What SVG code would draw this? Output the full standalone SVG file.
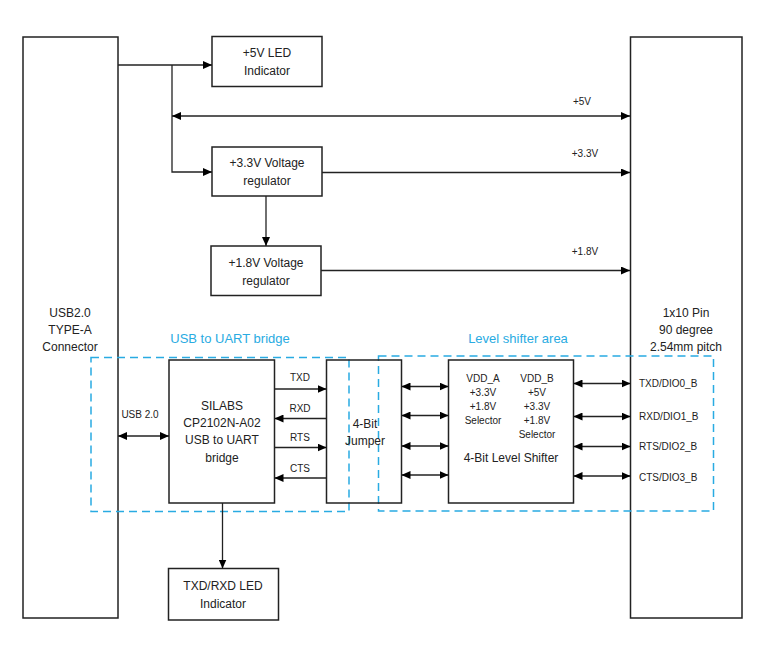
<svg xmlns="http://www.w3.org/2000/svg" width="768" height="658" viewBox="0 0 768 658">
<defs>
<marker id="ah" markerWidth="9" markerHeight="8" refX="9" refY="4" orient="auto-start-reverse" markerUnits="userSpaceOnUse">
<path d="M0,0 L9,4 L0,8 Z" fill="#000"/>
</marker>
</defs>
<style>
.box{fill:#fff;stroke:#222;stroke-width:1.5}
.t{font-family:"Liberation Sans",Arial,sans-serif;font-size:12px;fill:#222;text-anchor:middle}
.s{font-family:"Liberation Sans",Arial,sans-serif;font-size:10px;fill:#222;text-anchor:middle}
.sl{font-family:"Liberation Sans",Arial,sans-serif;font-size:10px;fill:#222;text-anchor:start}
.b{font-family:"Liberation Sans",Arial,sans-serif;font-size:13px;fill:#29abe2;text-anchor:middle}
.area{fill:none;stroke:#29abe2;stroke-width:1.5;stroke-dasharray:8,5}
.c{fill:none;stroke:#222;stroke-width:1.3}
.a{marker-end:url(#ah)}
.d{marker-start:url(#ah);marker-end:url(#ah)}
</style>
<rect width="768" height="658" fill="#fff"/>
<g id="usb-conn"><rect class="box" x="23" y="37" width="95" height="581"/>
<text class="t" x="70" y="317">USB2.0</text><text class="t" x="70" y="334">TYPE-A</text><text class="t" x="70" y="351">Connector</text></g>
<g id="pin-header"><rect class="box" x="630.5" y="37" width="111.5" height="581"/>
<text class="t" x="686" y="317">1x10 Pin</text><text class="t" x="686" y="334">90 degree</text><text class="t" x="686" y="351">2.54mm pitch</text></g>
<g id="led5"><rect class="box" x="212" y="36.5" width="110" height="50"/>
<text class="t" x="267" y="57">+5V LED</text><text class="t" x="267" y="75">Indicator</text></g>
<g id="reg33"><rect class="box" x="212" y="147" width="110" height="49"/>
<text class="t" x="267" y="167">+3.3V Voltage</text><text class="t" x="267" y="185">regulator</text></g>
<g id="reg18"><rect class="box" x="211" y="246" width="110" height="49.5"/>
<text class="t" x="266" y="267">+1.8V Voltage</text><text class="t" x="266" y="285">regulator</text></g>
<g id="area-usb"><rect class="area" x="91" y="357.5" width="258" height="154"/>
<text class="b" x="230" y="343">USB to UART bridge</text></g>
<g id="area-ls"><rect class="area" x="378.5" y="356" width="335" height="155"/>
<text class="b" x="518" y="343">Level shifter area</text></g>
<g id="silabs"><rect class="box" x="169" y="360" width="105.5" height="143"/>
<text class="t" x="222" y="410">SILABS</text><text class="t" x="222" y="427">CP2102N-A02</text><text class="t" x="222" y="444">USB to UART</text><text class="t" x="222" y="462">bridge</text></g>
<g id="jumper"><rect class="box" x="326.5" y="360" width="75" height="143" fill-opacity="0"/>
<text class="t" x="365" y="428">4-Bit</text><text class="t" x="365" y="445">Jumper</text></g>
<g id="shifter"><rect class="box" x="448.5" y="360" width="125" height="143"/>
<text class="s" x="483" y="382">VDD_A</text><text class="s" x="483" y="396">+3.3V</text><text class="s" x="483" y="410">+1.8V</text><text class="s" x="483" y="424">Selector</text>
<text class="s" x="537" y="382">VDD_B</text><text class="s" x="537" y="396">+5V</text><text class="s" x="537" y="410">+3.3V</text><text class="s" x="537" y="424">+1.8V</text><text class="s" x="537" y="438">Selector</text>
<text class="t" x="511" y="462">4-Bit Level Shifter</text></g>
<g id="ledtx"><rect class="box" x="168.5" y="568.5" width="110" height="51.5"/>
<text class="t" x="223" y="590">TXD/RXD LED</text><text class="t" x="223" y="608">Indicator</text></g>
<g id="connectors">
<path class="c a" d="M118,65 H212"/>
<path class="c a" d="M172,65 V172 H212"/>
<path class="c d" d="M172,116 H630"/>
<path class="c a" d="M322,172.5 H630"/>
<path class="c a" d="M266,196 V246"/>
<path class="c a" d="M321,270.5 H630"/>
<path class="c d" d="M118,436 H169"/>
<path class="c a" d="M274.5,389 H326.5"/>
<path class="c a" d="M326.5,418.5 H274.5"/>
<path class="c a" d="M274.5,447.5 H326.5"/>
<path class="c a" d="M326.5,478 H274.5"/>
<path class="c d" d="M401.5,386.5 H448.5"/>
<path class="c d" d="M401.5,415.5 H448.5"/>
<path class="c d" d="M401.5,446 H448.5"/>
<path class="c d" d="M401.5,475 H448.5"/>
<path class="c d" d="M573.5,383.5 H630.5"/>
<path class="c d" d="M573.5,416.5 H630.5"/>
<path class="c d" d="M573.5,446.5 H630.5"/>
<path class="c d" d="M573.5,476 H630.5"/>
<path class="c a" d="M222.5,503 V568.5"/>
<text class="s" x="582" y="105">+5V</text>
<text class="s" x="585" y="157">+3.3V</text>
<text class="s" x="585" y="255">+1.8V</text>
<text class="s" x="140" y="418">USB 2.0</text>
<text class="s" x="300" y="381">TXD</text>
<text class="s" x="300" y="412">RXD</text>
<text class="s" x="300" y="441">RTS</text>
<text class="s" x="300" y="472">CTS</text>
<text class="sl" x="639" y="387">TXD/DIO0_B</text>
<text class="sl" x="639" y="420">RXD/DIO1_B</text>
<text class="sl" x="639" y="450">RTS/DIO2_B</text>
<text class="sl" x="639" y="481">CTS/DIO3_B</text>
</g>
</svg>
